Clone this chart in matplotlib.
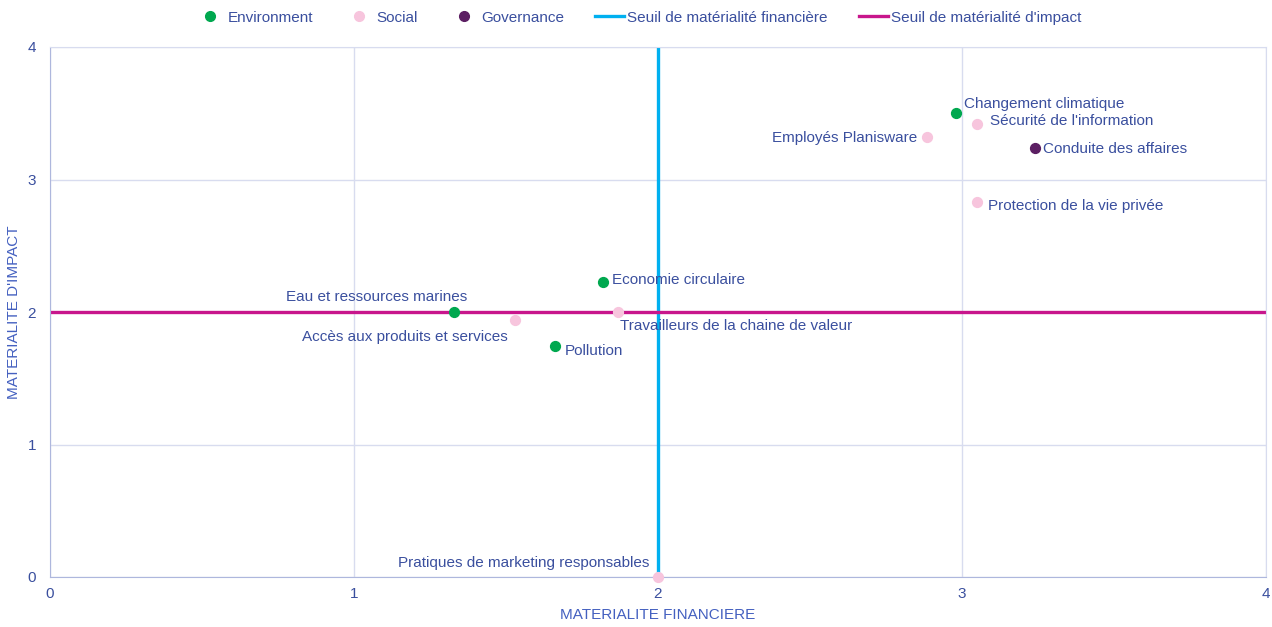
import matplotlib.pyplot as plt
from matplotlib.lines import Line2D

plt.rcParams['font.family'] = ['Liberation Sans', 'DejaVu Sans']

# donnees
env_names = ["Changement climatique", "Economie circulaire", "Eau et ressources marines", "Pollution"]
env_x = [2.98, 1.82, 1.33, 1.66]
env_y = [3.50, 2.23, 2.00, 1.74]

soc_names = ["Sécurité de l'information", "Employés Planisware", "Protection de la vie privée",
             "Accès aux produits et services", "Travailleurs de la chaine de valeur",
             "Pratiques de marketing responsables"]
soc_x = [3.05, 2.885, 3.05, 1.53, 1.87, 2.0]
soc_y = [3.42, 3.32, 2.83, 1.94, 2.00, 0.0]

gov_names = ["Conduite des affaires"]
gov_x = [3.24]
gov_y = [3.24]

seuil_fin = 2
seuil_imp = 2

# position des etiquettes (offset en points, alignement)
label_pos = {
    "Changement climatique": (6, 7, "left"),
    "Sécurité de l'information": (9, 2, "left"),
    "Employés Planisware": (-7, -1, "right"),
    "Conduite des affaires": (6, -1, "left"),
    "Protection de la vie privée": (8, -3, "left"),
    "Economie circulaire": (6, 1, "left"),
    "Eau et ressources marines": (9, 11, "right"),
    "Accès aux produits et services": (-5, -12, "right"),
    "Travailleurs de la chaine de valeur": (1, -10, "left"),
    "Pollution": (7, -3, "left"),
    "Pratiques de marketing responsables": (-6, 10, "right"),
}

c_env = "#00A84F"
c_soc = "#F7C5DD"
c_gov = "#5C1F63"
c_fin = "#00B0F0"
c_imp = "#C8168C"
txt = "#3A4F9E"
axis_col = "#4460C0"
grid_col = "#D8DCEF"

fig, ax = plt.subplots(figsize=(12.72, 6.27), dpi=100)
fig.subplots_adjust(left=50/1272, right=1266/1272, bottom=50/627, top=580/627)

ax.axvline(seuil_fin, color=c_fin, lw=2.4, zorder=2)
ax.axhline(seuil_imp, color=c_imp, lw=2.4, zorder=2)

ax.scatter(env_x, env_y, s=50, color=c_env, zorder=3, clip_on=False)
ax.scatter(soc_x, soc_y, s=50, color=c_soc, zorder=3, clip_on=False)
ax.scatter(gov_x, gov_y, s=50, color=c_gov, zorder=3, clip_on=False)

for names, xs, ys in [(env_names, env_x, env_y), (soc_names, soc_x, soc_y), (gov_names, gov_x, gov_y)]:
    for n, x, y in zip(names, xs, ys):
        dx, dy, ha = label_pos[n]
        ax.annotate(n, (x, y), xytext=(dx, dy), textcoords="offset points",
                    ha=ha, va="center", fontsize=11, color=txt)

ax.set_xlim(0, 4)
ax.set_ylim(0, 4)
ax.set_xticks([0, 1, 2, 3, 4])
ax.set_yticks([0, 1, 2, 3, 4])
ax.grid(True, color=grid_col, lw=1)
ax.set_axisbelow(True)
ax.tick_params(length=0, labelsize=11, labelcolor=txt)
ax.tick_params(axis="y", pad=10)
ax.tick_params(axis="x", pad=7)
for s in ["top", "right"]:
    ax.spines[s].set_color(grid_col)
for s in ["left", "bottom"]:
    ax.spines[s].set_color("#AEB7DD")

ax.set_xlabel("MATERIALITE FINANCIERE", fontsize=11, color=axis_col, labelpad=5)
ax.set_ylabel("MATERIALITE D'IMPACT", fontsize=11, color=axis_col, labelpad=5)

handles = [
    Line2D([], [], marker="o", ls="", color=c_env, markersize=7, label="Environment"),
    Line2D([], [], marker="o", ls="", color=c_soc, markersize=7, label="Social"),
    Line2D([], [], marker="o", ls="", color=c_gov, markersize=7, label="Governance"),
    Line2D([], [], color=c_fin, lw=2.4, label="Seuil de matérialité financière"),
    Line2D([], [], color=c_imp, lw=2.4, label="Seuil de matérialité d'impact"),
]
leg = fig.legend(handles=handles, loc="upper center", bbox_to_anchor=(0.502, 1.005), ncol=5,
                 frameon=False, fontsize=11, handlelength=1.9, handletextpad=0.2,
                 columnspacing=2.05)
for t in leg.get_texts():
    t.set_color(txt)

fig.savefig("out.png", dpi=100)
